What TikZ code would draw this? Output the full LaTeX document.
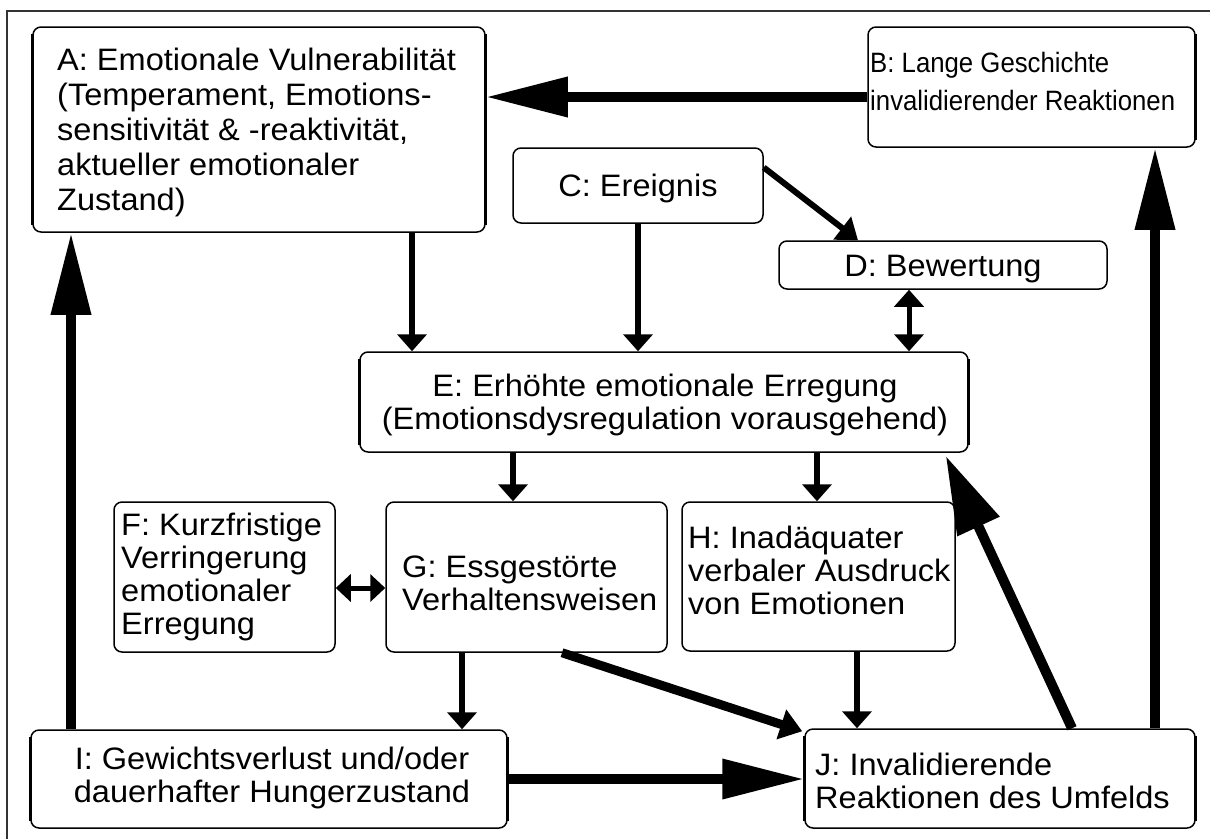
\documentclass[tikz,border=0pt]{standalone}
\usepackage{fontspec}
\setmainfont{Liberation Sans}[FakeStretch=1.05]
\newfontfamily\narrowfont{Liberation Sans}[FakeStretch=0.92]
\usetikzlibrary{arrows.meta,calc}
\begin{document}
\begin{tikzpicture}[x=1pt,y=-1pt,
  box/.style={draw=black, line width=1.5pt, rounded corners=8pt, inner sep=0pt},
  txt/.style={inner sep=0pt, align=left, font=\fontsize{31}{33}\selectfont},
  thin/.style={line width=6pt, -{Triangle[length=17pt,width=29pt]}},
  thinboth/.style={line width=5pt, {Triangle[length=17pt,width=29pt]}-{Triangle[length=17pt,width=29pt]}},
  thick/.style={line width=10pt, -{Triangle[length=82pt,width=38pt]}},
  side/.style={line width=3pt}]
\useasboundingbox (0,0) rectangle (1215,839);
\draw[line width=1.5pt, draw=black!80] (1210,11) -- (7,11) -- (7,839);

% boxes
\node[box, minimum width=452pt, minimum height=205pt] (A) at (259,129.5) {};
\node[box, minimum width=327pt, minimum height=120pt] (B) at (1031.5,87) {};
\node[box, minimum width=250pt, minimum height=75pt] (C) at (638,185.5) {};
\node[box, minimum width=328pt, minimum height=48pt] (D) at (943,265) {};
\node[box, minimum width=608pt, minimum height=100pt] (E) at (664,402) {};
\node[box, minimum width=221pt, minimum height=150pt] (F) at (224.5,577) {};
\node[box, minimum width=281pt, minimum height=150pt] (G) at (526.5,577) {};
\node[box, minimum width=273pt, minimum height=149pt] (H) at (818.5,576.5) {};
\node[box, minimum width=476pt, minimum height=98pt] (I) at (269,779) {};
\node[box, minimum width=390pt, minimum height=99pt] (J) at (1000,778.5) {};

% thicker vertical sides
\foreach \n in {A,E,I,J}{
  \draw[side] ([yshift=-8pt]\n.north west) -- ([yshift=8pt]\n.south west);
  \draw[side] ([yshift=-8pt]\n.north east) -- ([yshift=8pt]\n.south east);
}
\draw[side] ([yshift=-8pt]B.north east) -- ([yshift=8pt]B.south east);

% texts
\node[txt, anchor=west, font=\fontsize{31}{35}\selectfont] (tA) at (57,132)
  {A: Emotionale Vulnerabilität\\(Temperament, Emotions-\\sensitivität \& -reaktivität,\\aktueller emotionaler\\Zustand)};
\node[txt, anchor=west, font=\narrowfont\fontsize{28}{38}\selectfont] (tB) at (870,81)
  {B: Lange Geschichte\\invalidierender Reaktionen};
\node[txt, anchor=base] (tC) at (638,196) {C: Ereignis};
\node[txt, anchor=base] (tD) at (943,276) {D: Bewertung};
\node[txt, anchor=center, align=center] (tE) at (665,405)
  {E: Erhöhte emotionale Erregung\\(Emotionsdysregulation vorausgehend)};
\node[txt, anchor=west] (tF) at (121,577)
  {F: Kurzfristige\\Verringerung\\emotionaler\\Erregung};
\node[txt, anchor=west] (tG) at (402,583)
  {G: Essgestörte\\Verhaltensweisen};
\node[txt, anchor=west] (tH) at (688,570)
  {H: Inadäquater\\verbaler Ausdruck\\von Emotionen};
\node[txt, anchor=center, align=center] (tI) at (272,778)
  {I: Gewichtsverlust und/oder\\dauerhafter Hungerzustand};
\node[txt, anchor=west] (tJ) at (815,781)
  {J: Invalidierende\\Reaktionen des Umfelds};

% helper x positions
\coordinate (xAE) at (412,0);
\coordinate (xDE) at (909,0);
\coordinate (xEG) at (513,0);
\coordinate (xEH) at (817,0);
\coordinate (xGI) at (462,0);
\coordinate (xHJ) at (857,0);
\coordinate (xIA) at (71,0);
\coordinate (xJB) at (1155,0);

% connectors
\draw[thick] ([yshift=-10pt]B.west) -- ([yshift=-10pt]B.west -| A.east);
\draw[line width=6pt, -{Triangle[length=20pt,width=28pt]}] ([yshift=18pt]C.east) -- ([xshift=-85pt]D.north);
\draw[thin] (A.south -| xAE) -- (E.north -| xAE);
\draw[thin] (C.south) -- (C.south |- E.north);
\draw[thinboth] (D.south -| xDE) -- (E.north -| xDE);
\draw[thin] (E.south -| xEG) -- (G.north -| xEG);
\draw[thin] (E.south -| xEH) -- (H.north -| xEH);
\draw[line width=5pt, {Triangle[length=15pt,width=27pt]}-{Triangle[length=15pt,width=27pt]}] ([yshift=-11pt]F.east) -- ([yshift=-11pt]F.east -| G.west);
\draw[thin] (G.south -| xGI) -- (I.north -| xGI);
\draw[thin] (H.south -| xHJ) -- (J.north -| xHJ);
\draw[line width=9pt, -{Triangle[length=22pt,width=30pt]}] ([xshift=35.5pt]G.south) -- ([xshift=-2pt,yshift=-3pt]J.north west);
\draw[thick] (I.east) -- (I.east -| J.west);
\draw[line width=10pt, -{Triangle[length=78pt,width=44pt]}] ([xshift=72pt]J.north) -- ([xshift=-23pt,yshift=-3pt]E.south east);
\draw[thick] (J.north -| xJB) -- (B.south -| xJB);
\draw[thick] (I.north -| xIA) -- (A.south -| xIA);
\end{tikzpicture}
\end{document}
